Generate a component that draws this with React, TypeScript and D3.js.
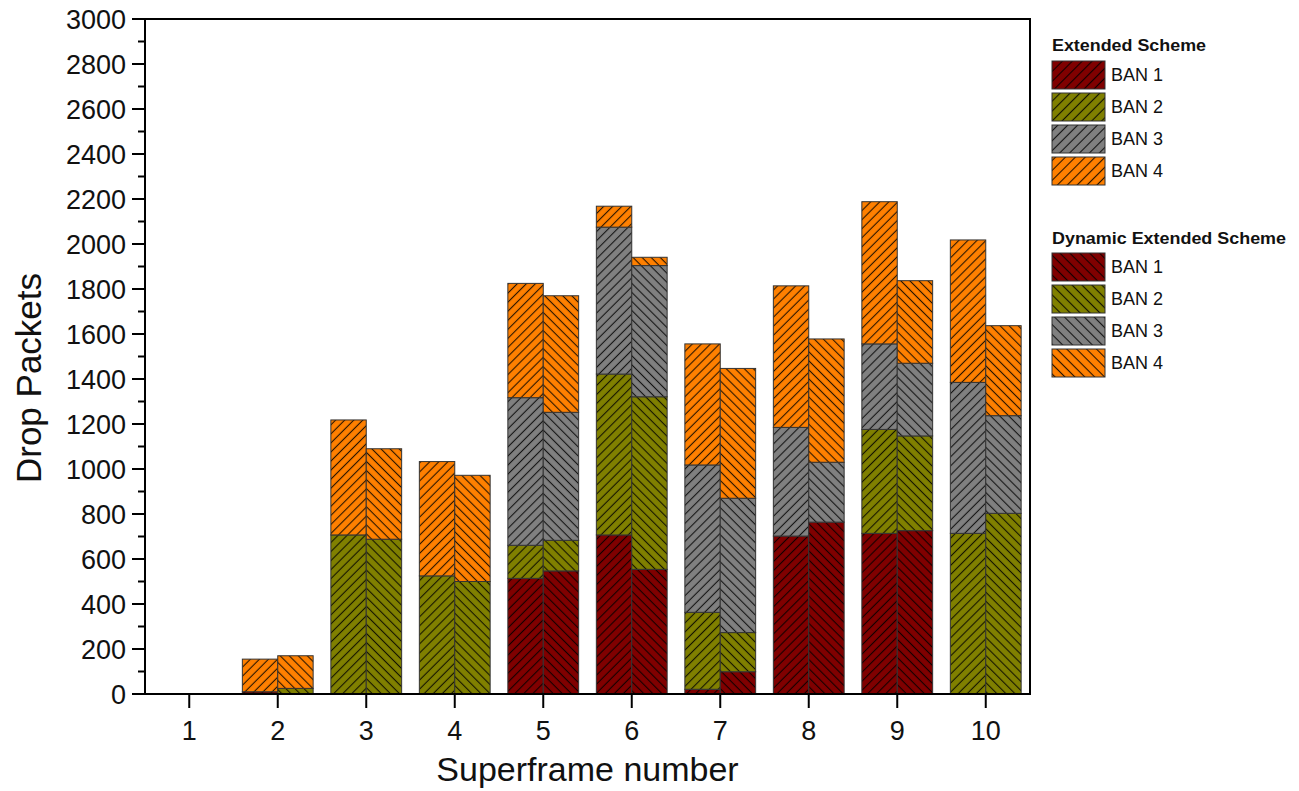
import React from "react";
import * as d3 from "d3";

const categories = ["1", "2", "3", "4", "5", "6", "7", "8", "9", "10"];
const banKeys = ["BAN 1", "BAN 2", "BAN 3", "BAN 4"];
const schemes = ["Extended Scheme", "Dynamic Extended Scheme"];

// Extended Scheme values per BAN
const extBan1 = [0, 10, 0, 0, 514, 707, 21, 702, 714, 0];
const extBan2 = [0, 0, 707, 525, 147, 715, 342, 0, 462, 714];
const extBan3 = [0, 0, 0, 0, 656, 653, 655, 483, 380, 671];
const extBan4 = [0, 145, 511, 508, 508, 93, 538, 629, 632, 633];

// Dynamic Extended Scheme values per BAN
const dynBan1 = [0, 0, 0, 0, 547, 554, 99, 764, 726, 0];
const dynBan2 = [0, 25, 688, 500, 136, 767, 174, 0, 421, 803];
const dynBan3 = [0, 0, 0, 0, 569, 583, 597, 266, 323, 434];
const dynBan4 = [0, 145, 402, 472, 518, 37, 577, 548, 367, 400];

const yTicks = [0, 200, 400, 600, 800, 1000, 1200, 1400, 1600, 1800, 2000, 2200, 2400, 2600, 2800, 3000];
const yMinorTicks = d3.range(100, 3000, 200);

const banColors = ["#800000", "#808000", "#808080", "#FF8000"];

const FONT = "'Liberation Sans', Arial, Helvetica, sans-serif";

function buildRows(b1: number[], b2: number[], b3: number[], b4: number[]) {
  return categories.map((c, i) => ({
    cat: c,
    "BAN 1": b1[i],
    "BAN 2": b2[i],
    "BAN 3": b3[i],
    "BAN 4": b4[i],
  }));
}

export default function App() {
  const left = 145, right = 1030, top = 19, bottom = 694;
  const x = d3.scaleBand<string>().domain(categories).range([left, right]).paddingInner(0.2).paddingOuter(0.1);
  const xs = d3.scaleBand<string>().domain(schemes).range([0, x.bandwidth()]);
  const y = d3.scaleLinear().domain([0, 3000]).range([bottom, top]);

  const stack = d3.stack<any>().keys(banKeys);
  const extStack = stack(buildRows(extBan1, extBan2, extBan3, extBan4));
  const dynStack = stack(buildRows(dynBan1, dynBan2, dynBan3, dynBan4));
  const allStacks = [extStack, dynStack];

  const patId = (s: number, k: number, leg: boolean) => `p${s}_${k}${leg ? "L" : ""}`;

  const makePattern = (s: number, k: number, leg: boolean) => {
    const w = leg ? 7 : 6.4;
    return (
      <pattern
        key={patId(s, k, leg)}
        id={patId(s, k, leg)}
        patternUnits="userSpaceOnUse"
        width={w}
        height={w}
        patternTransform={s === 0 ? "rotate(-45)" : "rotate(45)"}
      >
        <rect width={w} height={w} fill={banColors[k]} />
        <line x1={-1} x2={w + 1} y1={w / 2} y2={w / 2} stroke="#000" strokeWidth={1.1} strokeOpacity={0.85} />
      </pattern>
    );
  };

  const legendGroups = [
    { title: schemes[0], titleY: 51, startY: 61, s: 0 },
    { title: schemes[1], titleY: 244, startY: 253, s: 1 },
  ];

  return (
    <svg width={1299} height={791} style={{ position: "absolute", left: 0, top: 0, background: "#fff" }} fontFamily={FONT}>
      <defs>
        {[0, 1].map((s) => banKeys.map((_, k) => makePattern(s, k, false)))}
        {[0, 1].map((s) => banKeys.map((_, k) => makePattern(s, k, true)))}
      </defs>
      <rect width={1299} height={791} fill="#fff" />

      {/* bars */}
      {allStacks.map((st, s) =>
        st.map((layer, k) =>
          layer.map((seg, i) => {
            const h = y(seg[0]) - y(seg[1]);
            if (seg[1] - seg[0] <= 0) return null;
            return (
              <rect
                key={`${s}-${k}-${i}`}
                x={(x(categories[i]) as number) + (xs(schemes[s]) as number)}
                y={y(seg[1])}
                width={xs.bandwidth()}
                height={h}
                fill={`url(#${patId(s, k, false)})`}
                stroke="#333"
                strokeWidth={1}
              />
            );
          })
        )
      )}

      {/* frame */}
      <rect x={left} y={top} width={right - left} height={bottom - top} fill="none" stroke="#000" strokeWidth={2} />

      {/* y ticks */}
      {yTicks.map((t) => (
        <g key={`yt${t}`}>
          <line x1={left - 13} x2={left} y1={y(t)} y2={y(t)} stroke="#000" strokeWidth={2} />
          <text x={left - 19} y={y(t)} dy="0.36em" textAnchor="end" fontSize={27} fill="#111">
            {t}
          </text>
        </g>
      ))}
      {yMinorTicks.map((t) => (
        <line key={`ym${t}`} x1={left - 7} x2={left} y1={y(t)} y2={y(t)} stroke="#000" strokeWidth={2} />
      ))}

      {/* x ticks */}
      {categories.map((c) => {
        const cx = (x(c) as number) + x.bandwidth() / 2;
        return (
          <g key={`xt${c}`}>
            <line x1={cx} x2={cx} y1={bottom} y2={bottom + 14} stroke="#000" strokeWidth={2} />
            <text x={cx} y={740} textAnchor="middle" fontSize={27} fill="#111">
              {c}
            </text>
          </g>
        );
      })}

      {/* axis titles */}
      <text x={(left + right) / 2} y={781} textAnchor="middle" fontSize={34} fill="#111">
        Superframe number
      </text>
      <text transform="translate(41,378) rotate(-90)" textAnchor="middle" fontSize={35} fill="#111">
        Drop Packets
      </text>

      {/* legend */}
      {legendGroups.map((g) => (
        <g key={g.title}>
          <text x={1052} y={g.titleY} fontSize={17} fontWeight="bold" fill="#111" textLength={g.s === 0 ? 154 : 234} lengthAdjust="spacingAndGlyphs">
            {g.title}
          </text>
          {banKeys.map((b, k) => (
            <g key={b}>
              <rect
                x={1052}
                y={g.startY + k * 32}
                width={53}
                height={28}
                fill={`url(#${patId(g.s, k, true)})`}
                stroke="#333"
                strokeWidth={1}
              />
              <text x={1111} y={g.startY + k * 32 + 14} dy="0.36em" fontSize={18} fill="#111">
                {b}
              </text>
            </g>
          ))}
        </g>
      ))}
    </svg>
  );
}
